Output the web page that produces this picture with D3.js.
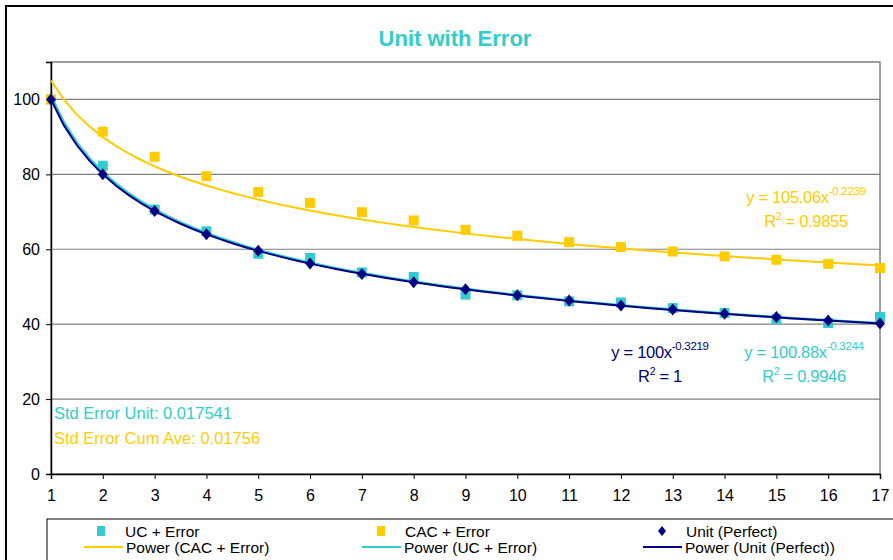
<!DOCTYPE html>
<html>
<head>
<meta charset="utf-8">
<script src="https://cdn.jsdelivr.net/npm/d3@7"></script>
<style>
  body { margin: 0; background: #fff; }
  svg { font-family: "Liberation Sans", Arial, sans-serif; }
</style>
</head>
<body>
<div id="chart"></div>
<script>
// units 1..17
var units = [1, 2, 3, 4, 5, 6, 7, 8, 9, 10, 11, 12, 13, 14, 15, 16, 17];

// values
var ucError  = [100, 82.3, 70.6, 64.8, 58.8, 57.7, 53.8, 52.6, 47.9, 47.7, 46.1, 45.8, 44.3, 43.0, 41.4, 40.3, 41.9];
var cacError = [100, 91.4, 84.7, 79.5, 75.3, 72.4, 69.9, 67.7, 65.2, 63.6, 61.9, 60.6, 59.4, 58.1, 57.2, 56.1, 55.0];
var unitPerfect = [100, 80.0, 70.2, 64.0, 59.6, 56.2, 53.4, 51.2, 49.3, 47.7, 46.3, 45.0, 43.9, 42.8, 41.9, 41.0, 40.2];

// trendline coefficients shown on the chart (a * x^b)
var trendCAC  = {a: 105.06, b: -0.2239};
var trendUC   = {a: 100.88, b: -0.3244};
var trendUnit = {a: 100,    b: -0.3219};

var yTicks = [0, 20, 40, 60, 80, 100];

var cyan = "#33CCCC", yellow = "#FFCC00", navy = "#000080";

var W = 893, H = 560;
var margin = {top: 62, left: 51};
var width = 880 - margin.left, height = 474 - margin.top;

var svg = d3.select("#chart").append("svg")
    .attr("width", W).attr("height", H);

// chart frame
svg.append("rect")
    .attr("x", 6).attr("y", 6).attr("width", W + 10).attr("height", H + 10)
    .attr("fill", "#fff").attr("stroke", "#000").attr("stroke-width", 2);

svg.append("text")
    .attr("x", 455).attr("y", 46)
    .attr("text-anchor", "middle")
    .attr("font-size", 22).attr("font-weight", "bold")
    .attr("fill", cyan)
    .text("Unit with Error");

var g = svg.append("g")
    .attr("transform", "translate(" + margin.left + "," + margin.top + ")");

var x = d3.scaleLinear().domain([1, 17]).range([0, width]);
var y = d3.scaleLinear().domain([0, 110]).range([height, 0]);

// plot border
g.append("rect")
    .attr("x", 0).attr("y", 0).attr("width", width).attr("height", height)
    .attr("fill", "none").attr("stroke", "#808080").attr("stroke-width", 1.5);

// gridlines
g.selectAll(".grid").data(yTicks.slice(1)).enter().append("line")
    .attr("x1", 0).attr("x2", width)
    .attr("y1", function(d) { return y(d); })
    .attr("y2", function(d) { return y(d); })
    .attr("stroke", "#808080").attr("stroke-width", 1.2);

// axes
var yAxis = g.append("g")
    .call(d3.axisLeft(y).tickValues(yTicks).tickSize(5).tickPadding(6));
yAxis.select(".domain").attr("stroke", "#000").attr("stroke-width", 1.5);
yAxis.selectAll("text").attr("font-size", 16).attr("fill", "#000")
    .attr("font-family", "Liberation Sans, Arial, sans-serif");

var xAxis = g.append("g")
    .attr("transform", "translate(0," + height + ")")
    .call(d3.axisBottom(x).tickValues(units).tickSize(5).tickPadding(11).tickFormat(d3.format("d")));
xAxis.select(".domain").attr("stroke", "#000").attr("stroke-width", 1.5);
xAxis.selectAll("text").attr("font-size", 16).attr("fill", "#000")
    .attr("font-family", "Liberation Sans, Arial, sans-serif");

// squares
function squares(data, color) {
  g.append("g").selectAll("rect").data(data).enter().append("rect")
      .attr("x", function(d, i) { return x(units[i]) - 5; })
      .attr("y", function(d) { return y(d) - 5; })
      .attr("width", 10).attr("height", 10)
      .attr("fill", color);
}
squares(ucError, cyan);
squares(cacError, yellow);

// trendlines
var xs = d3.range(1, 17.001, 0.25);
function trend(t, color, w) {
  var line = d3.line()
      .x(function(d) { return x(d); })
      .y(function(d) { return y(t.a * Math.pow(d, t.b)); });
  g.append("path").datum(xs)
      .attr("d", line)
      .attr("fill", "none").attr("stroke", color).attr("stroke-width", w);
}
trend(trendCAC, yellow, 2);
trend(trendUC, cyan, 2.5);
trend(trendUnit, navy, 2);

// diamonds
g.append("g").selectAll("path").data(unitPerfect).enter().append("path")
    .attr("transform", function(d, i) { return "translate(" + x(units[i]) + "," + y(d) + ")"; })
    .attr("d", "M0,-6L5,0L0,6L-5,0Z")
    .attr("fill", navy);

// equation labels
function eq(px, py, coef, expo, r2, color) {
  var t = svg.append("text").attr("x", px).attr("y", py)
      .attr("font-size", 16.5).attr("fill", color).attr("text-anchor", "middle")
      .style("letter-spacing", "-0.3px");
  t.append("tspan").text("y = " + coef + "x");
  t.append("tspan").attr("dy", -8).attr("font-size", 11.5).text(expo);
  var r = svg.append("text").attr("x", px).attr("y", py + 24)
      .attr("font-size", 16.5).attr("fill", color).attr("text-anchor", "middle")
      .style("letter-spacing", "-0.3px");
  r.append("tspan").text("R");
  r.append("tspan").attr("dy", -7).attr("font-size", 10.5).text("2");
  r.append("tspan").attr("dy", 7).text(" = " + r2);
}
eq(806, 203, "105.06", "-0.2239", "0.9855", yellow);
eq(660, 358, "100", "-0.3219", "1", navy);
eq(804, 358, "100.88", "-0.3244", "0.9946", cyan);

svg.append("text").attr("x", 54).attr("y", 419)
    .attr("font-size", 16.5).attr("fill", cyan)
    .text("Std Error Unit: 0.017541");
svg.append("text").attr("x", 54).attr("y", 444)
    .attr("font-size", 16.5).attr("fill", yellow)
    .text("Std Error Cum Ave: 0.01756");

// legend
var leg = svg.append("g");
leg.append("rect")
    .attr("x", 47).attr("y", 519).attr("width", 860).attr("height", 60)
    .attr("fill", "#fff").attr("stroke", "#000").attr("stroke-width", 1);

var legItems = [
  {label: "UC + Error", type: "square", color: cyan, x: 101, row: 0},
  {label: "CAC + Error", type: "square", color: yellow, x: 381, row: 0},
  {label: "Unit (Perfect)", type: "diamond", color: navy, x: 662, row: 0},
  {label: "Power (CAC + Error)", type: "line", color: yellow, x: 84, row: 1},
  {label: "Power (UC + Error)", type: "line", color: cyan, x: 362, row: 1},
  {label: "Power (Unit (Perfect))", type: "line", color: navy, x: 643, row: 1}
];
legItems.forEach(function(d) {
  var cy = 531 + d.row * 16;
  if (d.type === "square") {
    leg.append("rect").attr("x", d.x - 4).attr("y", cy - 5).attr("width", 8).attr("height", 10).attr("fill", d.color);
  } else if (d.type === "diamond") {
    leg.append("path").attr("transform", "translate(" + d.x + "," + cy + ")")
        .attr("d", "M0,-5L4,0L0,5L-4,0Z").attr("fill", d.color);
  } else {
    leg.append("line").attr("x1", d.x).attr("x2", d.x + 39).attr("y1", cy).attr("y2", cy)
        .attr("stroke", d.color).attr("stroke-width", 2);
  }
  var tx = d.type === "line" ? d.x + 42 : d.x + 24;
  leg.append("text").attr("x", tx).attr("y", cy + 5.5)
      .attr("font-size", 15.5).attr("fill", "#000")
      .text(d.label);
});
</script>
</body>
</html>
